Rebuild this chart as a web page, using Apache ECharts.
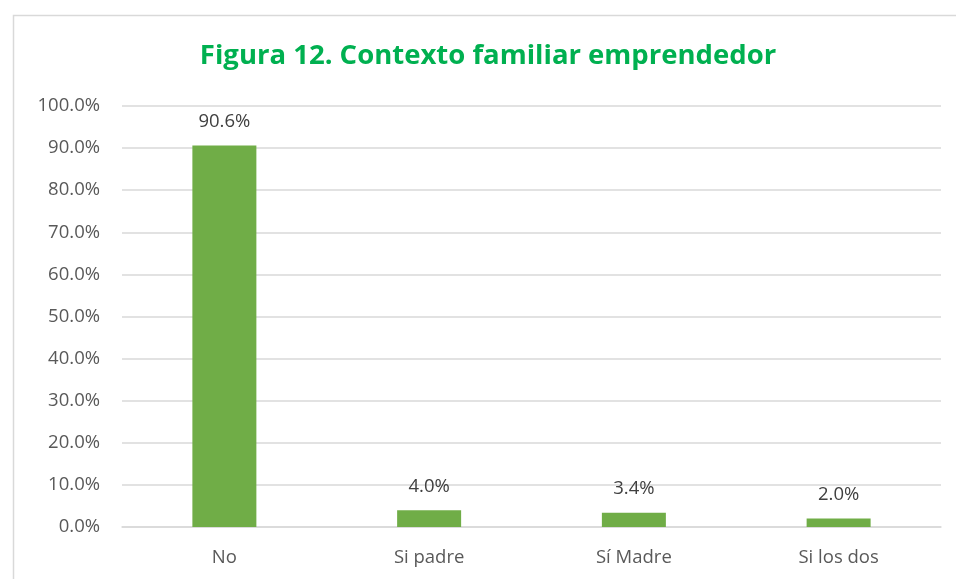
<!DOCTYPE html>
<html>
<head>
<meta charset="utf-8">
<script src="https://cdn.jsdelivr.net/npm/echarts@6/dist/echarts.min.js"></script>
<style>
  html, body { margin: 0; padding: 0; background: #fff; }
  #chart { width: 956px; height: 579px; }
</style>
</head>
<body>
<div id="chart"></div>
<script>
const categories = ['No', 'Si padre', 'Sí Madre', 'Si los dos']
const percentages = [90.6, 4.0, 3.4, 2.0]
const yTicks = { min: 0, max: 100, interval: 10 }

const chart = echarts.init(document.getElementById('chart'))
const font = 'Open Sans'

chart.setOption({
  animation: false,
  title: {
    text: 'Figura 12. Contexto familiar emprendedor',
    left: 483,
    top: 37,
    textAlign: 'center',
    textStyle: { color: '#00B050', fontFamily: font, fontWeight: 'bold', fontSize: 27.5 }
  },
  graphic: [{
    type: 'rect',
    left: 11, top: 13,
    shape: { width: 960, height: 600 },
    style: { fill: 'none', stroke: '#D9D9D9', lineWidth: 1.5 },
    silent: true
  }],
  grid: { left: 122, right: 15, top: 106, bottom: 52 },
  xAxis: {
    type: 'category',
    data: categories,
    axisLine: { lineStyle: { color: '#D9D9D9', width: 1.5 } },
    axisTick: { show: false },
    axisLabel: { color: '#595959', fontFamily: font, fontSize: 18.5, margin: 21 }
  },
  yAxis: {
    type: 'value',
    min: yTicks.min,
    max: yTicks.max,
    interval: yTicks.interval,
    axisLine: { show: false },
    axisTick: { show: false },
    splitLine: { lineStyle: { color: '#D9D9D9', width: 1.5 } },
    axisLabel: {
      color: '#595959', fontFamily: font, fontSize: 18.5, margin: 22,
      formatter: v => v.toFixed(1) + '%'
    }
  },
  series: [{
    type: 'bar',
    data: percentages,
    barWidth: 64,
    itemStyle: { color: '#70AD47' },
    label: {
      show: true,
      position: 'top',
      distance: 14,
      color: '#404040',
      fontFamily: font,
      fontSize: 18.5,
      formatter: p => p.value.toFixed(1) + '%'
    }
  }]
})
</script>
</body>
</html>
